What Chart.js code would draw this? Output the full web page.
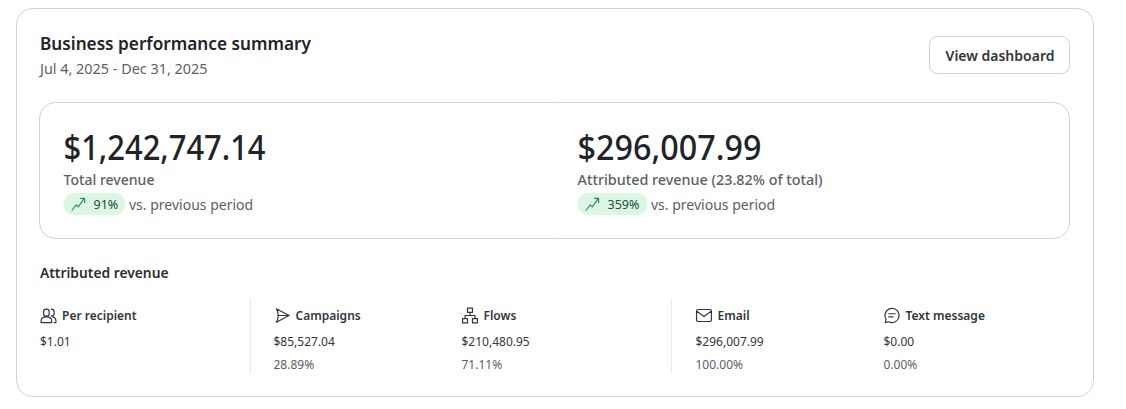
<!DOCTYPE html>
<html>
<head>
<meta charset="utf-8">
<title>Business performance summary</title>
<script src="https://cdn.jsdelivr.net/npm/chart.js@4/dist/chart.umd.min.js"></script>
<style>
  html, body { margin: 0; padding: 0; background: #fff; }
  canvas { display: block; }
</style>
</head>
<body>
<canvas id="summary" width="1126" height="409"></canvas>
<script>
// Values.
const chartTitle = "Business performance summary";
const dateRange = "Jul 4, 2025 - Dec 31, 2025";
const buttonLabel = "View dashboard";
const sectionTitle = "Attributed revenue";

const kpiValues = [1242747.14, 296007.99];
const kpiLabels = ["Total revenue", "Attributed revenue (23.82% of total)"];
const kpiChanges = [91, 359];
const changeSuffix = "vs. previous period";

const metricNames = ["Per recipient", "Campaigns", "Flows", "Email", "Text message"];
const metricValues = [1.01, 85527.04, 210480.95, 296007.99, 0];
const metricShares = [null, 28.89, 71.11, 100, 0];

const money = (v) => "$" + v.toLocaleString("en-US", { minimumFractionDigits: 2, maximumFractionDigits: 2 });

const FONT = '"Noto Sans", "Open Sans", sans-serif';
const INK = "#202328";
const MUTED = "#5c6066";
const BORDER = "#cfd0d2";

// Outline icons, 24 unit viewbox, scaled down when stroked.
const ICONS = [
  "M9 3a4 4 0 0 1 4 4v2a4 4 0 0 1-8 0V7a4 4 0 0 1 4-4zM1.500 22v-2c0-4 3-6 7.500-6s7.500 2 7.500 6v2zM16 3a4 4 0 0 1 4 4v2a4 4 0 0 1-4 4M18 14c2.800.7 4.500 3 4.500 6v2h-2.500",
  "M4 2.500 22 12 4 21.500c1.800-3 2.600-6.200 2.600-9.500S5.800 5.500 4 2.500zM6.600 12H22",
  "M8.500 1.500h7v6h-7zM1.500 16.500h7v6h-7zM15.500 16.500h7v6h-7zM12 7.500v4.500M5 16.500V12h14v4.500",
  "M3.500 3.500h17a2 2 0 0 1 2 2v13a2 2 0 0 1-2 2h-17a2 2 0 0 1-2-2v-13a2 2 0 0 1 2-2zM2 6l10 7.500L22 6",
  "M12 2a10 10 0 1 1-4.700 18.800L2.500 22l1.200-4.700A10 10 0 0 1 12 2zM7.500 9.500h9M7.500 14h6"
];
const TREND_ICON = "M1 22l6.500-8.500 3.500 3 9-13M14.500 3h6.500v6.500";

function text(ctx, str, x, y, font, color, align, maxWidth) {
  ctx.font = font + " " + FONT;
  ctx.fillStyle = color;
  ctx.textAlign = align || "left";
  ctx.textBaseline = "alphabetic";
  if (maxWidth) ctx.fillText(str, x, y, maxWidth);
  else ctx.fillText(str, x, y);
}

function box(ctx, x, y, w, h, r, stroke, fill) {
  ctx.beginPath();
  ctx.roundRect(x, y, w, h, r);
  if (fill) { ctx.fillStyle = fill; ctx.fill(); }
  if (stroke) { ctx.strokeStyle = stroke; ctx.lineWidth = 1; ctx.stroke(); }
}

function icon(ctx, d, x, y, size, color, width) {
  ctx.save();
  ctx.translate(x, y);
  ctx.scale(size / 24, size / 24);
  ctx.strokeStyle = color;
  ctx.lineWidth = width * 24 / size;
  ctx.lineJoin = "round";
  ctx.lineCap = "round";
  ctx.stroke(new Path2D(d));
  ctx.restore();
}

// There are no axes or bars in this card, so the whole thing is painted here.
const cardPlugin = {
  id: "card",
  beforeDraw(chart) {
    const ctx = chart.ctx;
    ctx.save();
    ctx.fillStyle = "#fff";
    ctx.fillRect(0, 0, chart.width, chart.height);

    box(ctx, 16.5, 8.5, 1077, 388, 16, BORDER);
    text(ctx, chartTitle, 40, 50, "600 17.2px", INK);
    text(ctx, dateRange, 40, 74, "400 14.4px", MUTED);

    box(ctx, 929.5, 36.5, 140, 37, 8, BORDER);
    text(ctx, buttonLabel, 1000, 61, "600 14px", "#33363b", "center");

    box(ctx, 39.5, 102.5, 1030, 136, 16, BORDER);
    const kpiX = [63.500, 577.500];
    const kpiWidths = [202, 184];
    const labelWidths = [91, 246];
    const pillW = [62, 70];
    kpiValues.forEach((v, i) => {
      const x = kpiX[i];
      text(ctx, money(v), x, 160, "500 34px", INK, "left", kpiWidths[i]);
      text(ctx, kpiLabels[i], x, 185, "500 14.35px", MUTED, "left", labelWidths[i]);
      box(ctx, x, 193, pillW[i], 22, 11, null, "#d9f7e3");
      icon(ctx, TREND_ICON, x + 8, 196.5, 15, "#2d8a5e", 1.1);
      text(ctx, kpiChanges[i] + "%", x + 30, 209, "400 12.500px", "#26493a");
      text(ctx, changeSuffix, x + pillW[i] + 3.5, 210, "400 14px", MUTED);
    });

    text(ctx, sectionTitle, 40, 278, "600 13.8px", "#2b2e33");

    const colX = [40, 273.500, 461.500, 695.500, 883.500];
    metricNames.forEach((name, i) => {
      const x = colX[i];
      icon(ctx, ICONS[i], x, 307, 17, "#33363b", 1.2);
      text(ctx, name, x + 22, 320, "600 12px", "#33363b");
      text(ctx, money(metricValues[i]), x, 346, "400 12px", "#33363b");
      if (metricShares[i] !== null) {
        text(ctx, metricShares[i].toFixed(2) + "%", x, 369, "400 12px", MUTED);
      }
    });

    ctx.strokeStyle = "#e9e9ea";
    ctx.lineWidth = 1;
    [250.500, 671.500].forEach((x) => {
      ctx.beginPath();
      ctx.moveTo(x, 299);
      ctx.lineTo(x, 373);
      ctx.stroke();
    });
    ctx.restore();
  }
};

const canvas = document.getElementById("summary");
canvas.getContext("2d", { alpha: false }); // opaque, so text gets the same smoothing as page text

new Chart(canvas, {
  type: "bar",
  data: {
    labels: metricNames,
    datasets: [{ label: sectionTitle, data: metricValues, hidden: true }],
  },
  options: {
    responsive: false,
    animation: false,
    devicePixelRatio: 1,
    events: [],
    plugins: { legend: { display: false }, tooltip: { enabled: false } },
    scales: { x: { display: false }, y: { display: false } },
  },
  plugins: [cardPlugin],
});
</script>
</body>
</html>
